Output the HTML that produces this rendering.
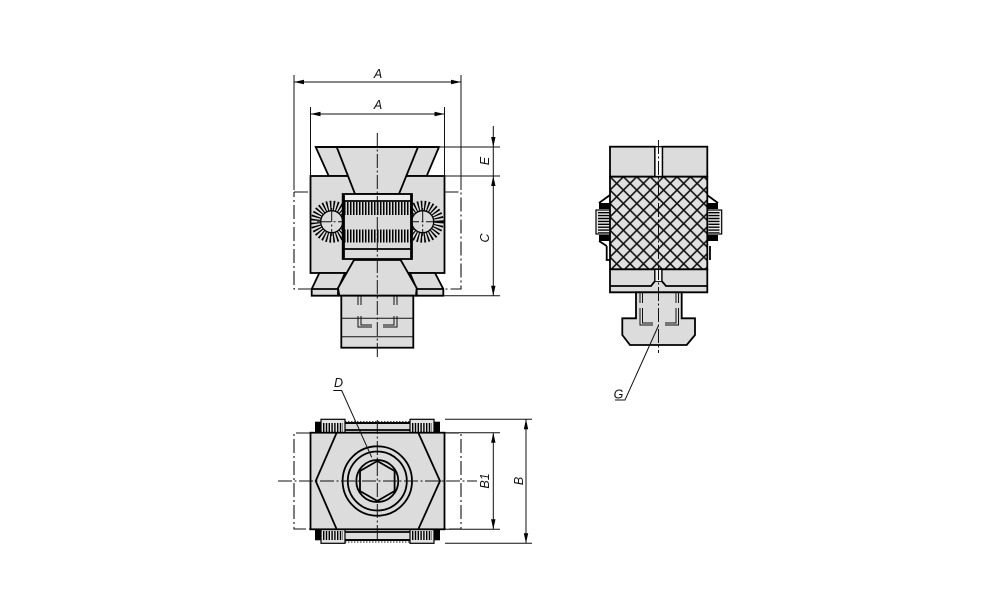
<!DOCTYPE html>
<html><head><meta charset="utf-8"><style>
html,body{margin:0;padding:0;background:#fff}
svg{display:block}
text{font-family:"Liberation Sans",sans-serif;font-style:italic;font-size:12.5px;fill:#111;text-anchor:middle}
.g{fill:#dcdcdc;stroke:#000;stroke-width:1.8;stroke-linejoin:miter}
.n{fill:none;stroke:#000;stroke-width:1.8}
.t{fill:none;stroke:#111;stroke-width:1}
.c{fill:none;stroke:#111;stroke-width:1;stroke-dasharray:14 2.5 2 2.5}
.o{fill:none;stroke:#111;stroke-width:1.100;stroke-dasharray:14 3 2 3}
.a{fill:#000;stroke:none}
</style></head><body>
<svg width="1000" height="611" viewBox="0 0 1000 611" xmlns="http://www.w3.org/2000/svg">
<defs>
<pattern id="x" width="13.4" height="13.4" patternUnits="userSpaceOnUse" x="610" y="176.7">
<rect width="13.4" height="13.4" fill="#e0e0e0"/>
<path d="M-1 1L1 -1M0 13.4L13.4 0M12.4 14.4L14.4 12.4M-1 12.4L1 14.4M0 0L13.4 13.4M12.4 -1L14.4 1" stroke="#111" stroke-width="1.600"/>
</pattern>
<clipPath id="lc"><rect x="305" y="195" width="37" height="54"/></clipPath>
<clipPath id="rc"><rect x="412" y="195" width="37" height="54"/></clipPath>
</defs>
<rect width="1000" height="611" fill="#fff"/>

<!-- FRONT VIEW -->
<path class="o" d="M294 192H310M444.500 192H461V289H444M312 289H294V192"/>
<polygon class="g" points="315.700,147 439,147 426.700,176 328.700,176"/>
<rect class="g" x="310.500" y="176" width="134" height="97"/>
<polygon class="g" points="336.700,147 418,147 399,194 355,194"/>
<path class="n" d="M315.700 147H439" stroke-width="2.200"/>
<!-- lower flanges -->
<polygon class="g" points="319.300,273 345,273 338,289 338,295.700 311.700,295.700 311.700,289"/>
<polygon class="g" points="410,273 435,273 443.300,289 443.300,295.700 416.700,295.700 416.700,289"/>
<path class="n" d="M311.700 289H338M416.700 289H443.300" stroke-width="1.200"/>
<!-- brushes -->
<g clip-path="url(#lc)"><circle cx="331.700" cy="221.700" r="16" fill="none" stroke="#000" stroke-width="10" stroke-dasharray="1.400 1.800"/></g>
<g clip-path="url(#rc)"><circle cx="422.700" cy="221.700" r="16" fill="none" stroke="#000" stroke-width="10" stroke-dasharray="1.400 1.800"/></g>
<circle cx="331.700" cy="221.700" r="11" fill="#dcdcdc" stroke="#000" stroke-width="1.300"/>
<circle cx="422.700" cy="221.700" r="11" fill="#dcdcdc" stroke="#000" stroke-width="1.300"/>
<path class="c" d="M317 221.700H349M331.700 208V236M405 221.700H437M422.700 208V236"/>
<!-- bottom cone -->
<polygon class="g" points="354,260 400.700,260 416.700,288 416,295.700 339.300,295.700 338,288"/>
<!-- stud -->
<rect class="g" x="341.300" y="295.700" width="72" height="52"/>
<path class="t" d="M341.300 318.300H413.300M341.300 336.700H413.300" stroke-width="1.400"/>
<path class="t" d="M358 296V305M361 296V305M394 296V305M397 296V305M358 316V327H372M361 316V325H372M397 316V327H383M394 316V325H383" stroke-width="1.100"/>
<!-- inner box -->
<rect class="g" x="342.700" y="194" width="69.300" height="65"/>
<rect x="344" y="195" width="67" height="5.500" fill="#eee"/>
<path class="n" d="M342.700 201H412M342.700 249H412"/>
<path d="M344 208.500H411M344 236H411" fill="none" stroke="#000" stroke-width="13" stroke-dasharray="1.500 1.500"/>
<path class="n" d="M344 194V259M411 194V259" stroke-width="2.600"/>
<path class="c" d="M377.300 133V357" stroke-width="1.100"/>
<!-- dims front -->
<path class="t" d="M294 75V190M461 75V190M310.500 107V176M444.500 107V176M294 82H461M310.500 114H444.500"/>
<polygon class="a" points="294,82 304,79.800 304,84.200"/><polygon class="a" points="461,82 451,79.800 451,84.200"/>
<polygon class="a" points="310.500,114 320.500,111.800 320.500,116.200"/><polygon class="a" points="444.500,114 434.500,111.800 434.500,116.200"/>
<path class="t" d="M439 147H500M444.500 176H500M443 295.700H500M493.300 126V296"/>
<polygon class="a" points="493.300,147 491.100,137 495.500,137"/><polygon class="a" points="493.300,176 491.100,186 495.500,186"/><polygon class="a" points="493.300,295.700 491.100,285.700 495.500,285.700"/>
<text x="378" y="78">A</text><text x="378" y="109">A</text>
<text transform="translate(489,161) rotate(-90)">E</text>
<text transform="translate(489,238) rotate(-90)">C</text>

<!-- TOP VIEW -->
<path class="o" d="M310 433H294V529H310M445 433H461V529H445"/>
<!-- between knurls -->
<path class="g" d="M345 423H410L413 433H342Z" stroke-width="1.200"/>
<path class="g" d="M342 529H413L410 540H345Z" stroke-width="1.200"/>
<path class="n" d="M345 423H410M345 430H410M345 532H410M345 540H410" stroke-width="1.300"/>
<path class="t" d="M345 421.700H410M345 542H410" stroke-dasharray="1.500 1.500"/>
<!-- knurls -->
<g>
<rect x="315" y="421.700" width="6" height="11" fill="#000"/><rect x="434" y="421.700" width="6" height="11" fill="#000"/>
<rect x="315" y="529.300" width="6" height="11" fill="#000"/><rect x="434" y="529.300" width="6" height="11" fill="#000"/>
<rect x="321" y="419.300" width="24" height="13.400" fill="#e4e4e4" stroke="#000" stroke-width="1.200"/>
<rect x="410" y="419.300" width="24" height="13.400" fill="#e4e4e4" stroke="#000" stroke-width="1.200"/>
<rect x="321" y="529.300" width="24" height="14" fill="#e4e4e4" stroke="#000" stroke-width="1.200"/>
<rect x="410" y="529.300" width="24" height="14" fill="#e4e4e4" stroke="#000" stroke-width="1.200"/>
<path d="M323 427.500H343M412 427.500H432M323 535.500H343M412 535.500H432" fill="none" stroke="#000" stroke-width="9" stroke-dasharray="1.400 1.400"/>
</g>
<rect class="g" x="310.500" y="432.700" width="134" height="96.600" stroke-width="1.400"/>
<path class="n" d="M336.700 432.700L315.700 481L336.700 529.300M418.300 432.700L440 481L418.300 529.300" stroke-width="1.600"/>
<circle class="n" cx="377.300" cy="481" r="34.700" stroke-width="1.600"/>
<circle class="n" cx="377.300" cy="481" r="29.500" stroke-width="1.600"/>
<circle class="n" cx="377.300" cy="481" r="21" stroke-width="1.600"/>
<polygon class="n" points="377.300,461 394.600,471 394.600,491 377.300,501 360,491 360,471" stroke-width="1.600"/>
<path class="c" d="M278 481H477M377.300 420V541"/>
<path class="t" d="M445 419.300H532M445 543.300H532M445 432.700H500M445 529.300H500M493.300 433V529M526 419.300V543.300"/>
<polygon class="a" points="493.300,432.700 491.100,442.700 495.500,442.700"/><polygon class="a" points="493.300,529.300 491.100,519.300 495.500,519.300"/>
<polygon class="a" points="526,419.300 523.800,429.300 528.200,429.300"/><polygon class="a" points="526,543.300 523.800,533.300 528.200,533.300"/>
<text x="338.500" y="387">D</text>
<path class="t" d="M333.300 390.500H341.700L371.700 457.300"/>
<text transform="translate(489,481) rotate(-90)">B1</text>
<text transform="translate(523,481) rotate(-90)">B</text>

<!-- SIDE VIEW -->
<rect class="g" x="610" y="146.700" width="45" height="30"/>
<rect class="g" x="662.300" y="146.700" width="45" height="30"/>
<rect x="655" y="146.700" width="7.300" height="30" fill="#fff" stroke="#000" stroke-width="1.200"/>
<!-- clamps -->
<path class="n" d="M599 203L610 195M718 203L707 195M606.700 246V260H610M710 246V260M599 241L606.700 246" stroke-width="1.300"/>
<rect x="599" y="203" width="11" height="6" fill="#000"/><rect x="599" y="235" width="11" height="6" fill="#000"/>
<rect x="707" y="203" width="11" height="6" fill="#000"/><rect x="707" y="235" width="11" height="6" fill="#000"/>
<rect x="596" y="210" width="14" height="24" fill="#e8e8e8" stroke="#000" stroke-width="1.200"/>
<rect x="707" y="210" width="14.700" height="24" fill="#e8e8e8" stroke="#000" stroke-width="1.200"/>
<path d="M603.500 212V233M714 212V233" fill="none" stroke="#000" stroke-width="11" stroke-dasharray="1.400 1.500"/>
<rect x="610" y="176.700" width="97.300" height="92.600" fill="url(#x)" stroke="#000" stroke-width="1.800"/>
<!-- bottom -->
<path class="g" d="M610 269.300H707.300V292.300H610Z"/>
<path class="n" d="M610 286H651L655 281V269.300M707.300 286H666L661.700 281V269.300M655 281H661.700" stroke-width="1.500"/>
<rect x="655.500" y="270" width="5.700" height="11" fill="#f2f2f2"/>
<!-- t bolt -->
<polygon class="g" points="636,292.300 681.700,292.300 681.700,318.300 695,318.300 695,335 686.700,345 630,345 622.300,335 622.300,318.300 636,318.300"/>
<path class="t" d="M640 293V303M642.500 293V303M676 293V303M678.500 293V303M640 308V325H653M642.500 308V323H653M678.500 308V325H665M676 308V323H665" stroke-width="1.100"/>
<path class="c" d="M658.500 140V353" stroke-width="1.100"/>
<path class="t" d="M658.300 326L625 400H615"/>
<text x="618.500" y="398.500">G</text>
</svg>
</body></html>
